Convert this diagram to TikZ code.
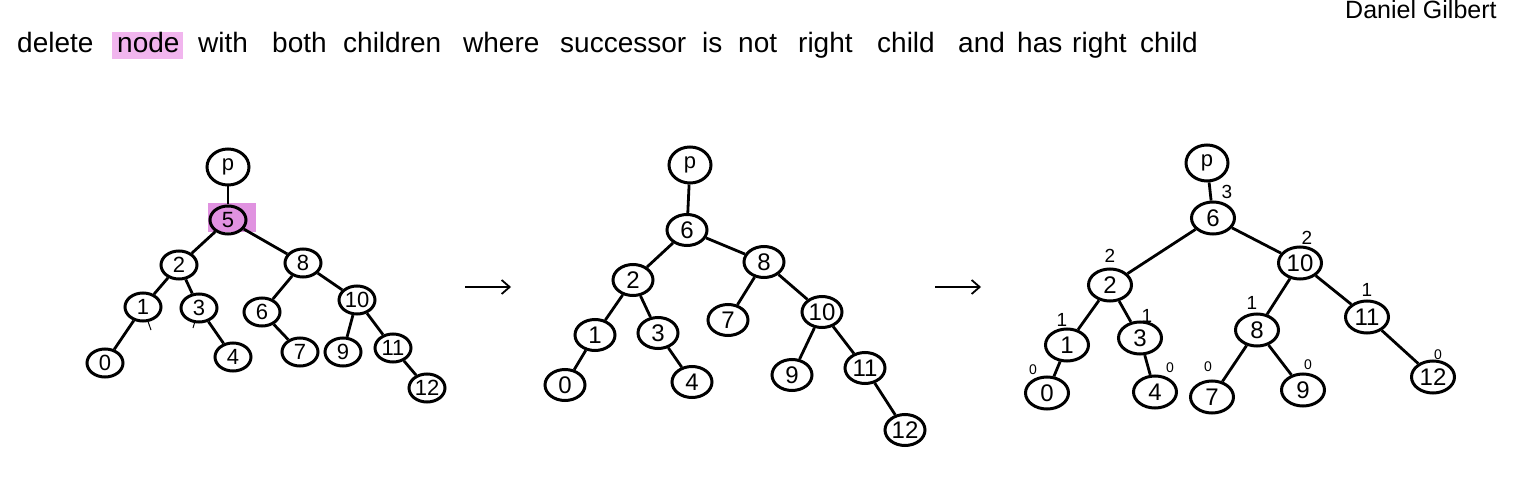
\documentclass[tikz,border=0pt]{standalone}
\usepackage{fontspec}
\setmainfont{Liberation Sans}
\usetikzlibrary{arrows.meta,shapes.geometric}
\definecolor{hlpink}{RGB}{236,150,232}
\definecolor{hlmag}{RGB}{214,110,214}
\begin{document}
\begin{tikzpicture}[x=1pt,y=-1pt,
  tn/.style={draw, ellipse, line width=3pt, minimum width=36pt, minimum height=28pt, inner sep=0pt, font=\fontsize{22}{22}\selectfont},
  tnb/.style={tn, minimum width=40pt, minimum height=31pt, font=\fontsize{24}{24}\selectfont},
  tnc/.style={tn, minimum width=43pt, minimum height=32pt, font=\fontsize{24}{24}\selectfont},
  pn/.style={tn, minimum width=42pt, minimum height=36pt},
  ed/.style={line width=2.8pt},
  stub/.style={line width=1pt},
  word/.style={anchor=base west, inner sep=0pt, font=\fontsize{28}{32}\selectfont},
  hgt/.style={inner sep=0pt, font=\fontsize{19}{19}\selectfont},
  arr/.style={line width=1.8pt, -{Straight Barb[length=8pt,width=14pt,line width=1.8pt]}}
]
\useasboundingbox (0,0) rectangle (1529,489);
\clip (0,0) rectangle (1529,489);
\fill[white] (0,0) rectangle (1529,489);

% title
\fill[hlpink, opacity=0.7] (112,32) rectangle (183,59);
\node[word] (w1) at (17,53) {delete};
\node[word] (w2) at (117,53) {node};
\node[word] (w3) at (198,53) {with};
\node[word] (w4) at (272,53) {both};
\node[word] (w5) at (343,53) {children};
\node[word] (w6) at (463,53) {where};
\node[word] (w7) at (560,53) {successor};
\node[word] (w8) at (702,53) {is};
\node[word] (w9) at (738,53) {not};
\node[word] (w10) at (798,53) {right};
\node[word] (w11) at (877,53) {child};
\node[word] (w12) at (958,53) {and};
\node[word] (w13) at (1017,53) {has};
\node[word] (w14) at (1072,53) {right};
\node[word] (w15) at (1140,53) {child};
\node[word, font=\fontsize{25}{27}\selectfont] (author) at (1345,19) {Daniel Gilbert};

% ---------- tree 1 ----------
\fill[hlmag, opacity=0.75] (208,203) rectangle (256,232);
\node[pn] (a-p) at (228,167) {p};
\node[tn] (a-5) at (228,220) {5};
\node[tn] (a-2) at (179,265) {2};
\node[tn] (a-8) at (303,263) {8};
\node[tn] (a-1) at (143,307) {1};
\node[tn] (a-3) at (199,308) {3};
\node[tn] (a-6) at (262,312) {6};
\node[tn] (a-10) at (357,300) {10};
\node[tn] (a-0) at (105,363) {0};
\node[tn] (a-4) at (233,357) {4};
\node[tn] (a-7) at (300,352) {7};
\node[tn] (a-9) at (343,352) {9};
\node[tn] (a-11) at (393,348) {11};
\node[tn] (a-12) at (427,388) {12};
\draw[ed] (a-p) -- (a-5);
\draw[ed] (a-5) -- (a-2);
\draw[ed] (a-5) -- (a-8);
\draw[ed] (a-2) -- (a-1);
\draw[ed] (a-2) -- (a-3);
\draw[ed] (a-1) -- (a-0);
\draw[ed] (a-3) -- (a-4);
\draw[ed] (a-8) -- (a-6);
\draw[ed] (a-8) -- (a-10);
\draw[ed] (a-6) -- (a-7);
\draw[ed] (a-10) -- (a-9);
\draw[ed] (a-10) -- (a-11);
\draw[ed] (a-11) -- (a-12);
\coordinate (s1) at (151,330);
\coordinate (s2) at (193,328);
\draw[stub] (a-1) -- (s1);
\draw[stub] (a-3) -- (s2);

% arrow 1
\coordinate (r1a) at (465,287);
\coordinate (r1b) at (511,287);
\draw[arr] (r1a) -- (r1b);

% ---------- tree 2 ----------
\node[pn] (b-p) at (690,165) {p};
\node[tnb] (b-6) at (687,230) {6};
\node[tnb] (b-2) at (633,280) {2};
\node[tnb] (b-8) at (764,262) {8};
\node[tnb] (b-1) at (595,335) {1};
\node[tnb] (b-3) at (658,333) {3};
\node[tnb] (b-7) at (728,320) {7};
\node[tnb] (b-10) at (822,312) {10};
\node[tnb] (b-0) at (565,385) {0};
\node[tnb] (b-4) at (692,382) {4};
\node[tnb] (b-9) at (792,375) {9};
\node[tnb] (b-11) at (865,368) {11};
\node[tnb] (b-12) at (905,430) {12};
\draw[ed] (b-p) -- (b-6);
\draw[ed] (b-6) -- (b-2);
\draw[ed] (b-6) -- (b-8);
\draw[ed] (b-2) -- (b-1);
\draw[ed] (b-2) -- (b-3);
\draw[ed] (b-1) -- (b-0);
\draw[ed] (b-3) -- (b-4);
\draw[ed] (b-8) -- (b-7);
\draw[ed] (b-8) -- (b-10);
\draw[ed] (b-10) -- (b-9);
\draw[ed] (b-10) -- (b-11);
\draw[ed] (b-11) -- (b-12);

% arrow 2
\coordinate (r2a) at (935,287);
\coordinate (r2b) at (981,287);
\draw[arr] (r2a) -- (r2b);

% ---------- tree 3 ----------
\node[pn] (c-p) at (1207,163) {p};
\node[tnc] (c-6) at (1213,218) {6};
\node[tnc] (c-2) at (1110,285) {2};
\node[tnc] (c-10) at (1300,263) {10};
\node[tnc] (c-1) at (1067,345) {1};
\node[tnc] (c-3) at (1140,338) {3};
\node[tnc] (c-8) at (1257,330) {8};
\node[tnc] (c-11) at (1367,317) {11};
\node[tnc] (c-0) at (1047,393) {0};
\node[tnc] (c-4) at (1155,392) {4};
\node[tnc] (c-7) at (1212,397) {7};
\node[tnc] (c-9) at (1303,390) {9};
\node[tnc] (c-12) at (1433,377) {12};
\draw[ed] (c-p) -- (c-6);
\draw[ed] (c-6) -- (c-2);
\draw[ed] (c-6) -- (c-10);
\draw[ed] (c-2) -- (c-1);
\draw[ed] (c-2) -- (c-3);
\draw[ed] (c-1) -- (c-0);
\draw[ed] (c-3) -- (c-4);
\draw[ed] (c-10) -- (c-8);
\draw[ed] (c-10) -- (c-11);
\draw[ed] (c-8) -- (c-7);
\draw[ed] (c-8) -- (c-9);
\draw[ed] (c-11) -- (c-12);

% heights
\node[hgt] (h6) at (1227,192) {3};
\node[hgt] (h2) at (1110,256) {2};
\node[hgt] (h10) at (1307,238) {2};
\node[hgt] (h1) at (1062,320) {1};
\node[hgt] (h3) at (1147,316) {1};
\node[hgt] (h8) at (1252,303) {1};
\node[hgt] (h11) at (1367,290) {1};
\node[hgt, font=\fontsize{14}{14}\selectfont] (h0) at (1033,370) {0};
\node[hgt, font=\fontsize{14}{14}\selectfont] (h4) at (1170,368) {0};
\node[hgt, font=\fontsize{14}{14}\selectfont] (h7) at (1208,367) {0};
\node[hgt, font=\fontsize{14}{14}\selectfont] (h9) at (1308,365) {0};
\node[hgt, font=\fontsize{14}{14}\selectfont] (h12) at (1438,355) {0};
\end{tikzpicture}
\end{document}
